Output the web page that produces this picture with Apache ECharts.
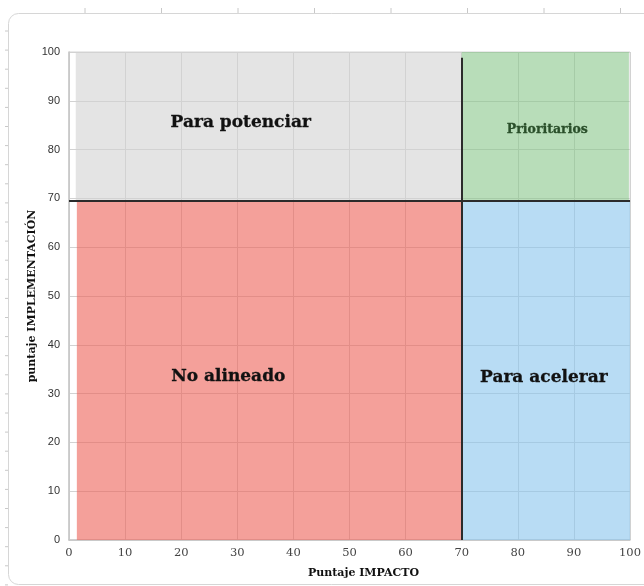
<!DOCTYPE html>
<html>
<head>
<meta charset="utf-8">
<script src="https://cdn.jsdelivr.net/npm/echarts@6/dist/echarts.min.js"></script>
<style>html,body{margin:0;padding:0;background:#fff;}#c{width:644px;height:586px;}</style>
</head>
<body>
<div id="c"></div>
<script>
// Data
const quadrantNames = ['Para potenciar', 'Prioritarios', 'No alineado', 'Para acelerar'];
const quadrantX = [[1.2, 70], [70, 99.8], [1.4, 70], [70, 100]];
const quadrantY = [[69.5, 100], [69.5, 100], [0, 69.5], [0, 69.5]];
const thresholdX = 70;
const thresholdY = 69.5;
const vLineTop = 98.8;
const axisMin = 0, axisMax = 100, axisStep = 10;
const xName = 'Puntaje IMPACTO';
const yName = 'puntaje IMPLEMENTACIÓN';

// Styles
const fills = ['rgba(210,210,210,0.6)', 'rgba(137,198,138,0.6)', 'rgba(237,97,87,0.6)', 'rgba(137,197,237,0.6)'];
const labelStyles = [
  {fontSize: 17, color: '#111', offset: [-28, -4]},
  {fontSize: 12.5, color: '#2a4f2a', offset: [2, 3]},
  {fontSize: 17, color: '#111', offset: [-41, 6]},
  {fontSize: 17, color: '#111', offset: [-2, 7]}
];
const serif = '"DejaVu Serif", "Liberation Serif", serif';

const areaData = quadrantNames.map((n, i) => [
  {
    name: n,
    coord: [quadrantX[i][0], quadrantY[i][0]],
    itemStyle: {color: fills[i]},
    label: {
      show: true, position: 'inside', fontFamily: serif, fontWeight: 'bold',
      fontSize: labelStyles[i].fontSize, color: labelStyles[i].color, offset: labelStyles[i].offset,
      textBorderColor: labelStyles[i].color, textBorderWidth: 0.3
    }
  },
  {coord: [quadrantX[i][1], quadrantY[i][1]]}
]);

// Decorative frame
const graphics = [{
  type: 'rect', shape: {x: 8.5, y: 13.5, width: 720, height: 571, r: 10},
  style: {fill: 'none', stroke: '#d6d6d6', lineWidth: 1}, z: -10, silent: true
}];
for (let x = 85; x < 644; x += 76.5) {
  graphics.push({type: 'line', shape: {x1: x, y1: 8, x2: x, y2: 13}, style: {stroke: '#c8c8c8', lineWidth: 1}});
}
for (let y = 31; y < 586; y += 19.1) {
  graphics.push({type: 'line', shape: {x1: 5, y1: y, x2: 8, y2: y}, style: {stroke: '#c8c8c8', lineWidth: 1}});
}

const chart = echarts.init(document.getElementById('c'));
chart.setOption({
  backgroundColor: '#fff',
  animation: false,
  graphic: graphics,
  grid: {left: 69, right: 13, top: 52, bottom: 46, show: true, borderColor: '#d4d4d4', borderWidth: 1},
  xAxis: {
    type: 'value', min: axisMin, max: axisMax, interval: axisStep,
    name: xName, nameLocation: 'middle', nameGap: 28,
    nameTextStyle: {fontFamily: serif, fontWeight: 'bold', fontSize: 11, color: '#111', padding: [0, 0, 0, 28]},
    axisLine: {show: true, lineStyle: {color: '#c6c6c6', width: 1.5}},
    axisTick: {show: false},
    axisLabel: {fontFamily: serif, fontSize: 11.5, color: '#444', margin: 7},
    splitLine: {show: true, lineStyle: {color: '#d2d2d2', width: 1}}
  },
  yAxis: {
    type: 'value', min: axisMin, max: axisMax, interval: axisStep,
    name: yName, nameLocation: 'middle', nameGap: 31, nameMoveOverlap: false,
    nameTextStyle: {fontFamily: serif, fontWeight: 'bold', fontSize: 11, color: '#111'},
    axisLine: {show: true, lineStyle: {color: '#c6c6c6', width: 1.5}},
    axisTick: {show: false},
    axisLabel: {fontFamily: '"Liberation Sans", Arial, sans-serif', fontSize: 11, color: '#333', margin: 9},
    splitLine: {show: true, lineStyle: {color: '#d2d2d2', width: 1}}
  },
  series: [{
    type: 'scatter',
    data: [],
    markArea: {silent: true, data: areaData},
    markLine: {
      silent: true, symbol: 'none', label: {show: false},
      lineStyle: {color: '#2b2b2b', width: 2, type: 'solid'},
      data: [
        [{coord: [thresholdX, axisMin]}, {coord: [thresholdX, vLineTop]}],
        [{coord: [axisMin, thresholdY]}, {coord: [axisMax, thresholdY]}]
      ]
    }
  }]
});
</script>
</body>
</html>
